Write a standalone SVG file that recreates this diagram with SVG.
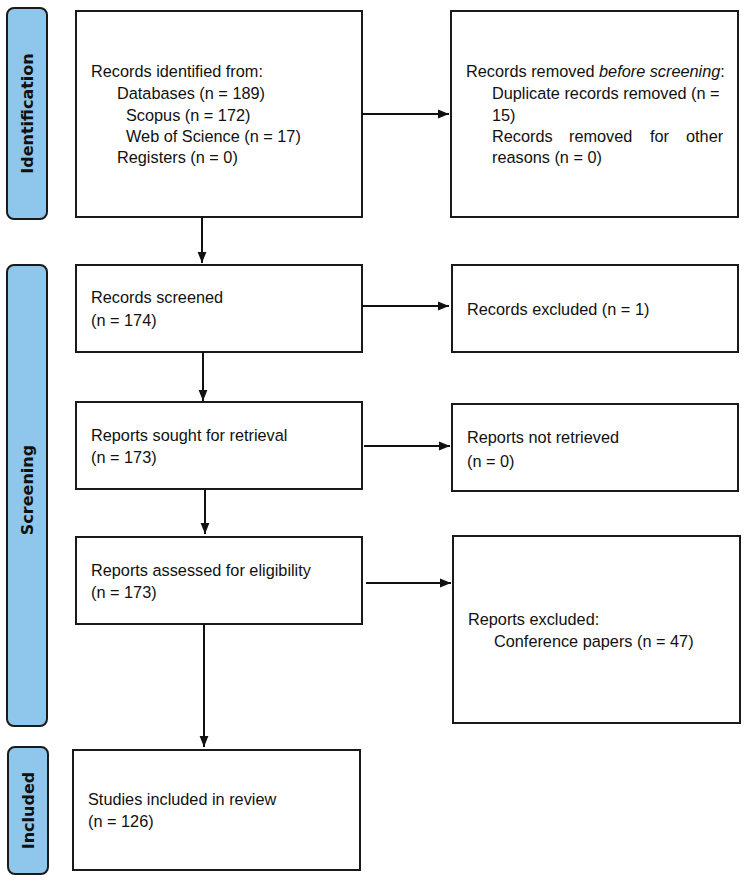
<svg xmlns="http://www.w3.org/2000/svg" width="747" height="881" viewBox="0 0 747 881">
<style>
.box{fill:#fff;stroke:#1a1a1a;stroke-width:2}
.lab{fill:#8FC6EC;stroke:#1a1a1a;stroke-width:2}
.t{font-family:"Liberation Sans",Arial,sans-serif;font-size:16.3px;fill:#111}
.lt{font-family:"DejaVu Sans",sans-serif;font-weight:bold;font-size:16px;fill:#111;text-anchor:middle}
.c{stroke:#111;stroke-width:2;fill:none;marker-end:url(#ah)}
</style>
<defs>
<marker id="ah" viewBox="0 0 10 10" refX="10" refY="5" markerWidth="11" markerHeight="11" markerUnits="userSpaceOnUse" orient="auto">
<path d="M0,1 L10,5 L0,9 z" fill="#111"/>
</marker>
</defs>
<rect width="747" height="881" fill="#fff"/>
<g id="phase-identification">
<rect class="lab" x="7" y="8" width="40" height="211" rx="7"/>
<text class="lt" transform="translate(33,113.5) rotate(-90)">Identification</text>
</g>
<g id="phase-screening">
<rect class="lab" x="7" y="265" width="40" height="461" rx="7"/>
<text class="lt" transform="translate(33,490) rotate(-90)">Screening</text>
</g>
<g id="phase-included">
<rect class="lab" x="8" y="747" width="40" height="127" rx="7"/>
<text class="lt" transform="translate(34,810.5) rotate(-90)">Included</text>
</g>
<g id="records-identified">
<rect class="box" x="76" y="11" width="286" height="206"/>
<text class="t"><tspan x="91" y="77">Records identified from:</tspan><tspan x="117" y="99">Databases (n = 189)</tspan><tspan x="126" y="121">Scopus (n = 172)</tspan><tspan x="126" y="142">Web of Science (n = 17)</tspan><tspan x="117" y="163">Registers (n = 0)</tspan></text>
</g>
<g id="records-removed">
<rect class="box" x="451" y="11" width="287" height="206"/>
<text class="t"><tspan x="466" y="77">Records removed <tspan font-style="italic">before screening</tspan>:</tspan><tspan x="492" y="99">Duplicate records removed  (n =</tspan><tspan x="492" y="121">15)</tspan><tspan x="492" y="142">Records</tspan><tspan x="569" y="142">removed</tspan><tspan x="650" y="142">for</tspan><tspan x="686" y="142">other</tspan><tspan x="492" y="163">reasons (n = 0)</tspan></text>
</g>
<g id="records-screened">
<rect class="box" x="76" y="265" width="286" height="87"/>
<text class="t"><tspan x="91" y="303">Records screened</tspan><tspan x="91" y="326">(n = 174)</tspan></text>
</g>
<g id="records-excluded">
<rect class="box" x="452" y="265" width="286" height="87"/>
<text class="t" x="467" y="315">Records excluded (n = 1)</text>
</g>
<g id="reports-sought">
<rect class="box" x="76" y="402" width="286" height="87"/>
<text class="t"><tspan x="91" y="441">Reports sought for retrieval</tspan><tspan x="91" y="463">(n = 173)</tspan></text>
</g>
<g id="reports-not-retrieved">
<rect class="box" x="452" y="404" width="286" height="87"/>
<text class="t"><tspan x="467" y="443">Reports not retrieved</tspan><tspan x="467" y="467">(n = 0)</tspan></text>
</g>
<g id="reports-assessed">
<rect class="box" x="76" y="537" width="286" height="87"/>
<text class="t"><tspan x="91" y="576">Reports assessed for eligibility</tspan><tspan x="91" y="598">(n = 173)</tspan></text>
</g>
<g id="reports-excluded">
<rect class="box" x="453" y="536" width="287" height="187"/>
<text class="t"><tspan x="468" y="625">Reports excluded:</tspan><tspan x="494" y="647">Conference papers (n = 47)</tspan></text>
</g>
<g id="studies-included">
<rect class="box" x="73" y="750" width="287" height="120"/>
<text class="t"><tspan x="88" y="805">Studies included in review</tspan><tspan x="88" y="827">(n = 126)</tspan></text>
</g>
<g id="connectors">
<path class="c" d="M362,114 H449"/>
<path class="c" d="M202,217 V263"/>
<path class="c" d="M362,306 H449"/>
<path class="c" d="M203,352 V401"/>
<path class="c" d="M364,446 H450"/>
<path class="c" d="M205,489 V534"/>
<path class="c" d="M366,583 H451"/>
<path class="c" d="M204,624 V747"/>
</g>
</svg>
